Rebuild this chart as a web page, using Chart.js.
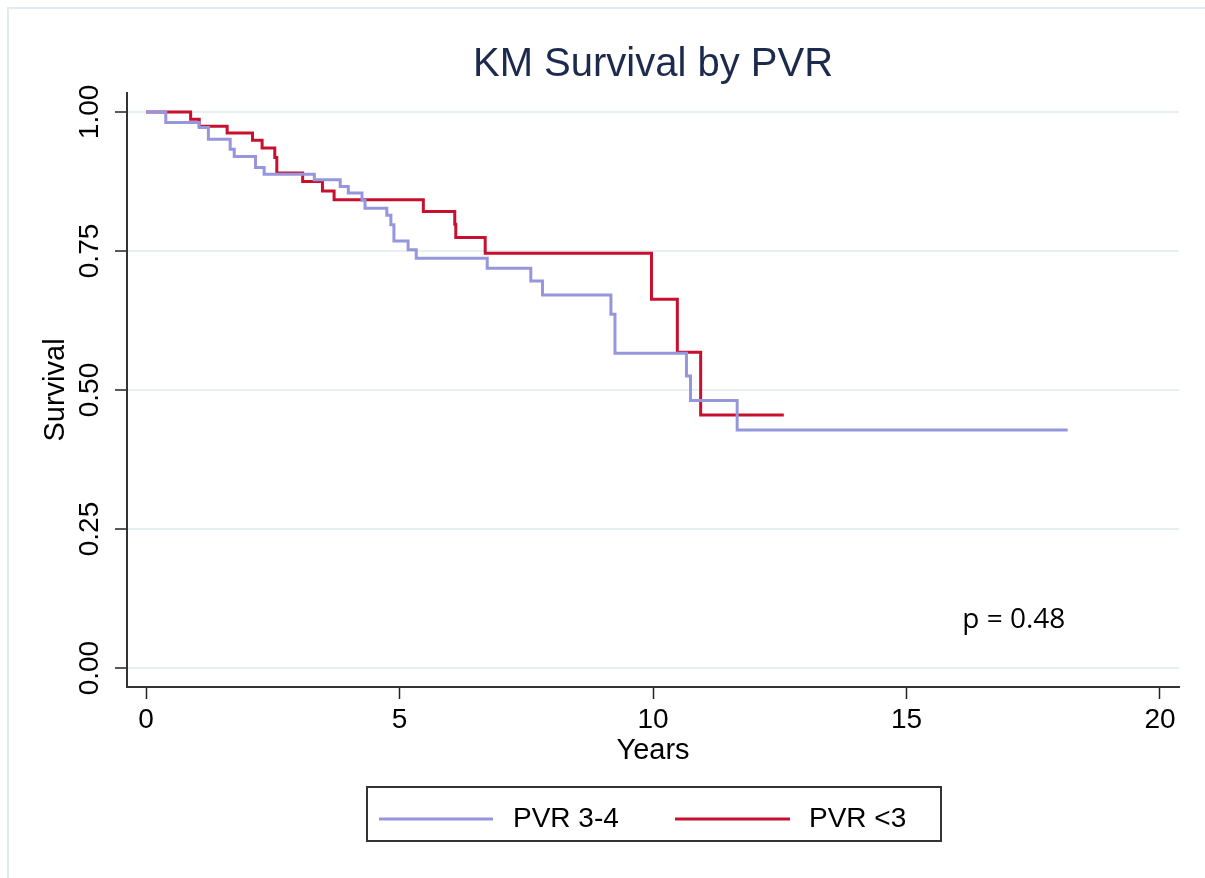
<!DOCTYPE html>
<html lang="en">
<head>
    <meta charset="UTF-8">
    <title>KM Survival by PVR</title>
    <script src="https://cdn.jsdelivr.net/npm/chart.js"></script>
    <style>
        body { margin: 0; background: #fff; }
        canvas { display: block; }
    </style>
</head>
<body>
    <canvas id="kmChart" width="1205" height="878"></canvas>

    <script>
        // Kaplan-Meier step data (time in years, survival)
        const pvr34Times = [0, 0.39, 1.05, 1.23, 1.66, 1.74, 2.16, 2.33, 3.32, 3.83, 3.99, 4.26, 4.32, 4.75, 4.83, 4.89, 5.17, 5.33, 6.73, 7.59, 7.82, 9.17, 9.25, 10.66, 10.74, 11.66, 18.18];
        const pvr34Surv  = [1, 0.981, 0.972, 0.951, 0.933, 0.920, 0.900, 0.888, 0.878, 0.866, 0.854, 0.841, 0.827, 0.814, 0.797, 0.768, 0.752, 0.737, 0.719, 0.696, 0.671, 0.636, 0.566, 0.525, 0.481, 0.428, 0.428];

        const pvrLt3Times = [0, 0.88, 1.05, 1.60, 2.10, 2.29, 2.54, 2.58, 3.09, 3.48, 3.71, 5.47, 6.09, 6.11, 6.69, 9.97, 10.48, 10.94, 12.58];
        const pvrLt3Surv  = [1, 0.987, 0.974, 0.962, 0.949, 0.935, 0.918, 0.890, 0.875, 0.858, 0.842, 0.821, 0.798, 0.774, 0.746, 0.663, 0.568, 0.455, 0.455];

        const seriesLabels = ['PVR 3-4', 'PVR <3'];
        const xTicks = [0, 5, 10, 15, 20];
        const yTicks = [0, 0.25, 0.5, 0.75, 1];
        const pValueText = 'p = 0.48';

        const toPoints = (xs, ys) => xs.map((x, i) => ({ x: x, y: ys[i] }));

        Chart.defaults.font.family = '"Liberation Sans", Arial, Helvetica, sans-serif';
        Chart.defaults.color = '#000';

        // centre title over the plot area, draw the framed legend, p-value and outer frame
        const stataExtras = {
            id: 'stataExtras',
            afterLayout(chart) {
                chart.titleBlock.left = chart.chartArea.left;
                chart.titleBlock.right = chart.chartArea.right;
            },
            beforeDraw(chart) {
                const ctx = chart.ctx;
                ctx.save();
                ctx.strokeStyle = '#e2ebee';
                ctx.lineWidth = 2;
                ctx.strokeRect(8, 8, chart.width + 20, chart.height + 20);
                ctx.restore();
            },
            afterDraw(chart) {
                const ctx = chart.ctx;
                const area = chart.chartArea;
                const cx = (area.left + area.right) / 2;
                const sets = chart.data.datasets;

                ctx.save();
                // legend frame
                ctx.strokeStyle = '#333';
                ctx.lineWidth = 2;
                ctx.strokeRect(cx - 286, 787, 574, 54);

                const ly = 819;
                const items = [
                    { x0: cx - 274, x1: cx - 160, tx: cx - 140 },
                    { x0: cx + 22, x1: cx + 137, tx: cx + 156 }
                ];
                ctx.font = '28px "Liberation Sans", Arial, sans-serif';
                ctx.textBaseline = 'middle';
                ctx.textAlign = 'left';
                items.forEach((it, i) => {
                    ctx.strokeStyle = sets[i].borderColor;
                    ctx.lineWidth = 3;
                    ctx.beginPath();
                    ctx.moveTo(it.x0, ly);
                    ctx.lineTo(it.x1, ly);
                    ctx.stroke();
                    ctx.fillStyle = '#000';
                    ctx.fillText(sets[i].label, it.tx, ly);
                });

                // p-value annotation
                const xs = chart.scales.x, ys = chart.scales.y;
                ctx.font = '28px "Open Sans", "Liberation Sans", sans-serif';
                ctx.fillText(pValueText, xs.getPixelForValue(16.1), ys.getPixelForValue(0.086));
                ctx.restore();
            }
        };

        const ctx = document.getElementById('kmChart').getContext('2d');
        const kmChart = new Chart(ctx, {
            type: 'scatter',
            data: {
                datasets: [{
                    label: seriesLabels[0],
                    data: toPoints(pvr34Times, pvr34Surv),
                    borderColor: '#9696dc',
                    backgroundColor: '#9696dc',
                    borderWidth: 3,
                    showLine: true,
                    stepped: true,
                    pointRadius: 0
                }, {
                    label: seriesLabels[1],
                    data: toPoints(pvrLt3Times, pvrLt3Surv),
                    borderColor: '#c8102e',
                    backgroundColor: '#c8102e',
                    borderWidth: 3,
                    showLine: true,
                    stepped: true,
                    pointRadius: 0
                }]
            },
            options: {
                responsive: false,
                animation: false,
                devicePixelRatio: 1,
                layout: { padding: { top: 0, left: 0, right: 26, bottom: 101 } },
                scales: {
                    x: {
                        type: 'linear',
                        min: -0.375,
                        max: 20.375,
                        afterBuildTicks: axis => { axis.ticks = xTicks.map(v => ({ value: v })); },
                        afterFit: axis => { axis.height = 90; },
                        grid: {
                            drawOnChartArea: false,
                            drawTicks: true,
                            tickLength: 12,
                            tickColor: '#222',
                            tickWidth: 1.5
                        },
                        border: { display: true, color: '#333', width: 2 },
                        ticks: {
                            font: { size: 28 },
                            color: '#000',
                            padding: 4,
                            maxRotation: 0,
                            callback: v => String(v)
                        },
                        title: {
                            display: true,
                            text: 'Years',
                            font: { size: 29 },
                            color: '#000',
                            padding: { top: 0, bottom: 9 }
                        }
                    },
                    y: {
                        type: 'linear',
                        min: -0.034,
                        max: 1.034,
                        afterBuildTicks: axis => { axis.ticks = yTicks.map(v => ({ value: v })); },
                        afterFit: axis => { axis.width = 127; },
                        grid: {
                            color: '#e6eff1',
                            lineWidth: 2,
                            drawTicks: true,
                            tickLength: 12,
                            tickColor: '#222',
                            tickWidth: 1.5
                        },
                        border: { display: true, color: '#333', width: 2 },
                        ticks: {
                            font: { size: 28 },
                            color: '#000',
                            minRotation: 90,
                            maxRotation: 90,
                            crossAlign: 'center',
                            padding: -3,
                            callback: v => Number(v).toFixed(2)
                        },
                        title: {
                            display: true,
                            text: 'Survival',
                            font: { size: 29 },
                            color: '#000',
                            padding: { top: 39, bottom: 0 }
                        }
                    }
                },
                plugins: {
                    legend: { display: false },
                    tooltip: { enabled: false },
                    title: {
                        display: true,
                        text: 'KM Survival by PVR',
                        color: '#1c2a4e',
                        font: { size: 40, weight: 'normal' },
                        padding: { top: 41, bottom: 4 }
                    }
                }
            },
            plugins: [stataExtras]
        });
    </script>
</body>
</html>
